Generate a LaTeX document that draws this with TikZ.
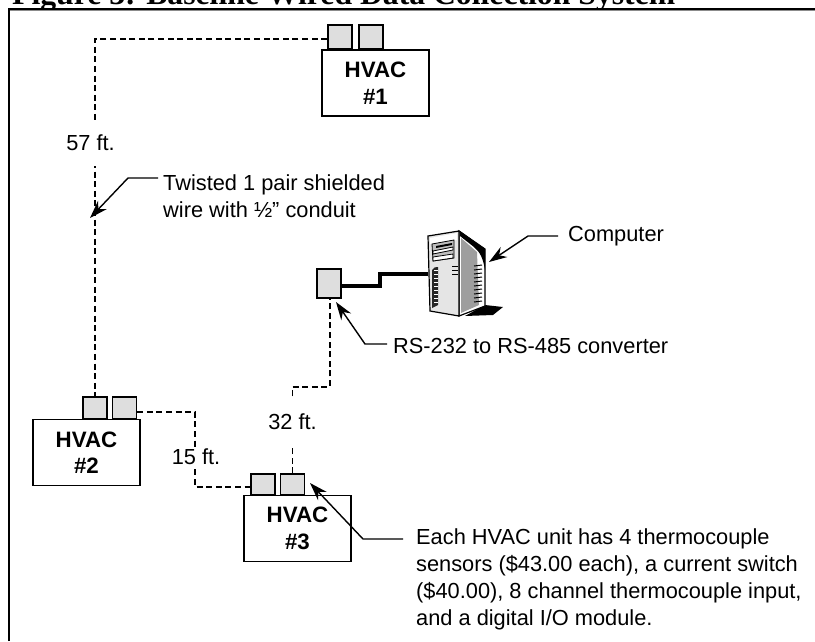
\documentclass[tikz,border=0pt]{standalone}
\usepackage{fontspec}
\setmainfont{Liberation Sans}
\newfontfamily\titlefont{Liberation Serif}
\usetikzlibrary{arrows.meta}
\tikzset{
  unitbox/.style={draw=black,line width=1.5pt,fill=white,minimum width=107pt,minimum height=66pt,inner sep=0pt,align=center,font=\fontsize{22.3}{26.5}\selectfont\bfseries},
  tabbox/.style={draw=black,line width=1.5pt,fill=black!13,minimum width=24pt,minimum height=24pt,inner sep=0pt},
  wire/.style={draw=black,line width=1.4pt,dash pattern=on 6pt off 3.6pt},
  callout/.style={draw=black,line width=1.4pt,-{Stealth[length=18pt,width=12pt]}},
  lenlabel/.style={fill=white,inner sep=0pt,font=\fontsize{21.8}{27}\selectfont},
  note/.style={inner sep=0pt,anchor=west,align=left,font=\fontsize{21.8}{27}\selectfont},
}
\begin{document}
\begin{tikzpicture}[x=1pt,y=-1pt]
\useasboundingbox (0,0) rectangle (815,641);
% title
\node[inner sep=0pt,anchor=base west,font=\titlefont\bfseries\fontsize{31.7}{36}\selectfont] (title) at (12,4.5) {Figure 3: Baseline Wired Data Collection System};
% frame
\draw[black!45,line width=1pt] (10,10.6) -- (815,10.6);
\draw[black,line width=1.5pt] (9,641) -- (9,9) -- (815,9);
% waypoints
\coordinate (w1) at (95,39);
\coordinate (w2) at (195,412);
\coordinate (w3) at (195,487);
\coordinate (w4) at (293,387);
\coordinate (w5) at (330,387);
\coordinate (pcl) at (428,274);
\coordinate (t1) at (380,286);
\coordinate (t2) at (380,274);
\coordinate (pcr) at (489,262);
\coordinate (c1) at (528,236);
\coordinate (c0) at (558,236);
\coordinate (r0) at (387,344);
\coordinate (r1) at (365,344);
\coordinate (rtip) at (336,302);
\coordinate (q0) at (158,178);
\coordinate (q1) at (128,178);
\coordinate (qtip) at (90,218);
\coordinate (e0) at (403,539);
\coordinate (e1) at (363,539);
\coordinate (etip) at (310,483);
% units
\node[tabbox] (a1) at (340,37) {};
\node[tabbox] (a2) at (371,37) {};
\node[unitbox] (h1) at (375.5,83) {HVAC\\\#1};
\node[tabbox,minimum height=22pt] (b1) at (95,408) {};
\node[tabbox,minimum height=22pt] (b2) at (124.5,408) {};
\node[unitbox] (h2) at (86.5,452.5) {HVAC\\\#2};
\node[tabbox,minimum height=21pt] (d1) at (263,484.5) {};
\node[tabbox,minimum height=21pt] (d2) at (292.5,484.5) {};
\node[unitbox] (h3) at (297.5,528.5) {HVAC\\\#3};
\node[tabbox,minimum width=24pt,minimum height=29pt] (conv) at (329,283.5) {};
% wires
\draw[wire] (a1.west |- w1) -- (w1) -- (w1 |- b1.north);
\draw[wire] (b2.east |- w2) -- (w2) -- (w3) -- (w3 -| d1.west);
\draw[wire] (d2.north) -- (d2.north |- w4) -- (w4) -- (w5) -- (conv.south -| w5);
% length labels
\node[lenlabel,minimum width=60pt,minimum height=46pt] (l57) at (90.5,143) {57 ft.};
\node[lenlabel,minimum width=44pt,minimum height=20pt] (l15) at (196,457) {15 ft.};
\node[lenlabel,minimum width=50pt,minimum height=47pt] (l32) at (292.5,421.5) {32 ft.};
% thick link
\draw[black,line width=3.2pt,line join=miter] (conv.east |- t1) -- (t1) -- (t2) -- (pcl);
% computer
\fill[black] (465,316) -- (485,305) -- (503,307) -- (493,315) -- cycle;
\draw[black,line width=1.2pt,fill=white] (459,231) -- (485,249) -- (485,306) -- (459,316) -- cycle;
\fill[black!38] (461,238) -- (477,252) -- (479,305) -- (461,313) -- cycle;
\fill[black] (460,231) -- (485,249) -- (485,270) .. controls (483,258) and (480,252) .. (474,247) -- (460,236) -- cycle;
\draw[black,line width=1.2pt,fill=black!10] (428,236) -- (459,231) -- (459,316) -- (430,311) -- cycle;
\fill[white] (430,238) -- (457,233) -- (457,240) -- (430,244) -- cycle;
\draw[black,line width=0.8pt,fill=black!25] (432,244) -- (454,240) -- (454,258) -- (433,261) -- cycle;
\draw[black,line width=0.8pt,fill=white] (433,251) -- (453,247) -- (453,250) -- (433,254) -- cycle;
\fill[black] (436,246) -- (452,243) -- (452,245) -- (436,248) -- cycle;
\draw[black,line width=0.8pt,fill=white] (433,257) -- (453,254) -- (453,258) -- (433,261) -- cycle;
\fill[black!85] (432,270) .. controls (433,267) and (436,267) .. (438,267) -- (438,305) -- (432,308) -- cycle;
\foreach \yy in {270,274,...,304} \draw[white,line width=1pt] (434,\yy) -- (438,\yy);
\foreach \yy in {266,270,274} \draw[black,line width=1pt] (452,\yy) -- (458,\yy);
\foreach \yy in {266,270,...,302} \draw[black,line width=1pt] (474,\yy) -- (482,\yy-1);
% callouts
\draw[callout] (q0) -- (q1) -- (qtip);
\draw[callout] (c0) -- (c1) -- (pcr);
\draw[callout] (r0) -- (r1) -- (rtip);
\draw[callout] (e0) -- (e1) -- (etip);
% notes
\node[note] (n1) at (163,196) {Twisted 1 pair shielded\\wire with ½” conduit};
\node[note] (n2) at (568,236) {Computer};
\node[note] (n3) at (393,346) {RS-232 to RS-485 converter};
\node[note] (n4) at (416,579.5) {Each HVAC unit has 4 thermocouple\\sensors (\$43.00 each), a current switch\\(\$40.00), 8 channel thermocouple input,\\and a digital I/O module.};
\end{tikzpicture}
\end{document}
